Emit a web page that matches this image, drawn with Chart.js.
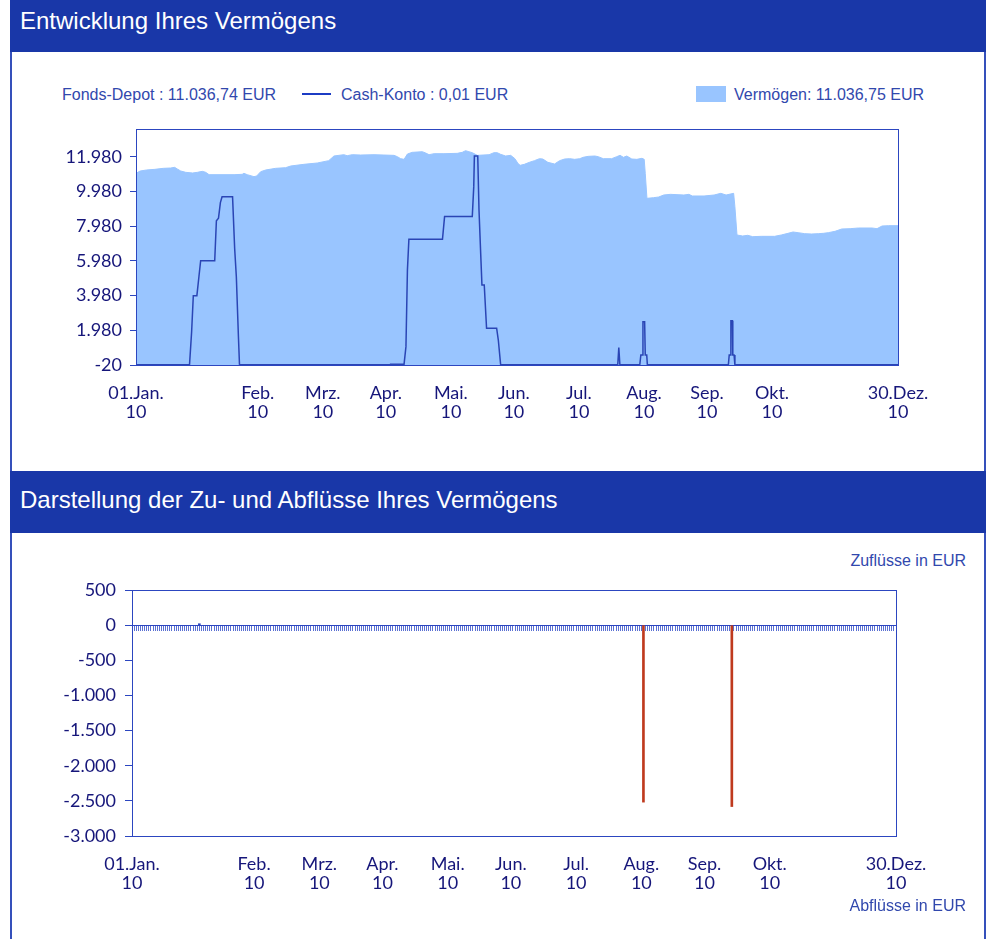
<!DOCTYPE html>
<html><head><meta charset="utf-8">
<script src="https://cdn.jsdelivr.net/npm/chart.js@4.4.1/dist/chart.umd.min.js"></script>
<style>
html,body{margin:0;padding:0;background:#fff;}
body{width:989px;height:939px;position:relative;overflow:hidden;font-family:"Liberation Sans",Arial,sans-serif;}
.fl{position:absolute;top:0;width:2px;height:939px;background:#3550bb;}
.hdr{position:absolute;left:10px;width:976px;background:#1937a8;}
.hdr span{position:absolute;left:10px;color:#fff;font-size:24px;line-height:24px;white-space:nowrap;}
.lg{position:absolute;color:#3148ad;font-size:16px;line-height:16px;white-space:nowrap;z-index:2;}
canvas{position:absolute;left:0;}
</style></head>
<body>
<div class="fl" style="left:10px"></div>
<div class="fl" style="left:984px"></div>
<div class="hdr" style="top:0;height:52px"><span style="top:9px">Entwicklung Ihres Vermögens</span></div>
<div class="hdr" style="top:471px;height:62px"><span style="top:17px">Darstellung der Zu- und Abflüsse Ihres Vermögens</span></div>

<div class="lg" style="left:62px;top:87px">Fonds-Depot : 11.036,74 EUR</div>
<div style="position:absolute;left:302px;top:93px;width:29px;height:2px;background:#1c3cc4"></div>
<div class="lg" style="left:341px;top:87px">Cash-Konto : 0,01 EUR</div>
<div style="position:absolute;left:696px;top:86px;width:30px;height:16px;background:#99c5ff"></div>
<div class="lg" style="left:734px;top:87px">Vermögen: 11.036,75 EUR</div>
<div class="lg" style="right:23px;top:553px">Zuflüsse in EUR</div>
<div class="lg" style="right:23px;top:898px">Abflüsse in EUR</div>

<canvas id="c1" width="989" height="330" style="top:110px"></canvas>
<canvas id="c2" width="989" height="360" style="top:570px"></canvas>

<script>
// ---- data ----
const dayTicks = [0, 58, 89, 119, 150, 180, 211, 242, 272, 303, 363];
const monthLabels = ['01.Jan.', 'Feb.', 'Mrz.', 'Apr.', 'Mai.', 'Jun.', 'Jul.', 'Aug.', 'Sep.', 'Okt.', '30.Dez.'];
const yearLabels = ['10', '10', '10', '10', '10', '10', '10', '10', '10', '10', '10'];
const depotTicks = [-20, 1980, 3980, 5980, 7980, 9980, 11980];
const flowTicks = [500, 0, -500, -1000, -1500, -2000, -2500, -3000];

const vermoegenDays = [0, 2, 5, 9, 13, 16.5, 18.4, 19.7, 21.3, 23.7, 27, 29.2, 31.6, 33.2, 34.8, 46.7, 50.6, 51.4, 53, 56.2, 57.5, 59.4, 61.8, 66.5, 71.3, 73.7, 80, 86.4, 91.8, 94.3, 99, 100.6, 103, 107, 113.4, 118.1, 122.9, 124.5, 126.1, 127.7, 129.3, 131.6, 136.4, 138, 139.6, 142, 146.7, 153, 155.4, 157, 158.6, 160.2, 162.6, 168.2, 170.5, 172.1, 173.7, 176.1, 178.5, 180.5, 182, 183, 185, 187.4, 189.8, 192.2, 193.8, 196.2, 199.4, 201.8, 204.2, 206.6, 209, 211.4, 213, 215.4, 218.6, 220.2, 222.6, 226.6, 229, 230.6, 232.2, 233.8, 236.2, 238.6, 241, 242.1, 242.6, 243.4, 246.6, 249, 251.4, 254.6, 261, 263.4, 265, 270.6, 275.4, 278.6, 281.1, 284.7, 285.3, 286.3, 289, 291.4, 293.8, 297.8, 304.2, 307.4, 310.6, 313, 315.4, 318.6, 321.8, 325, 327.4, 329.8, 333, 336.2, 340.2, 344.2, 350.7, 353, 355.4, 358.6, 363];
const vermoegenValues = [11037, 11172, 11230, 11268, 11326, 11345, 11383, 11288, 11172, 11095, 11057, 11095, 11153, 11095, 10960, 10960, 10980, 11037, 10960, 10845, 10883, 11133, 11230, 11326, 11364, 11460, 11557, 11634, 11768, 12037, 12113, 12055, 12113, 12094, 12113, 12094, 12075, 11998, 11883, 11845, 12152, 12248, 12286, 12210, 12113, 12171, 12171, 12190, 12248, 12344, 12286, 12228, 12075, 12113, 12228, 12228, 12133, 12037, 12075, 11883, 11600, 11500, 11557, 11673, 11768, 11883, 11864, 11673, 11576, 11768, 11864, 11883, 11845, 11883, 11960, 12017, 12037, 11998, 11883, 11883, 11998, 12075, 11960, 12037, 11864, 11845, 11903, 11845, 11037, 9595, 9634, 9672, 9787, 9826, 9787, 9826, 9730, 9730, 9787, 9883, 9787, 9883, 9114, 7480, 7422, 7461, 7384, 7403, 7403, 7480, 7576, 7653, 7615, 7557, 7538, 7557, 7576, 7615, 7692, 7826, 7845, 7883, 7883, 7845, 7999, 8018, 8018];

const cashDays = [0, 25.5, 26.5, 27.3, 29, 30, 30.8, 37.5, 38.3, 39.3, 40.2, 41, 46, 47, 47.8, 48.8, 49.3, 121, 121.3, 127.7, 128.6, 129.3, 130, 146, 147, 160.2, 160.9, 161.2, 162.8, 163.4, 164.2, 164.8, 165.9, 167, 171.8, 172.6, 173.7, 229.5, 230, 230.5, 240, 240.5, 241.2, 241.5, 242.3, 242.6, 243.3, 243.6, 282.2, 282.6, 283.2, 283.4, 284.1, 284.3, 284.9, 285.3, 363];
const cashValues = [0, 0, 1900, 3980, 3980, 5100, 6000, 6000, 8300, 8450, 9350, 9680, 9680, 6700, 5070, 1600, 0, 0, 30, 30, 1040, 5460, 7230, 7230, 8540, 8540, 10270, 12040, 12040, 8920, 6420, 4600, 4600, 2100, 2100, 1420, 0, 0, 980, 0, 0, 560, 560, 2480, 2480, 560, 560, 0, 0, 560, 560, 2540, 2540, 560, 560, 0, 0];

const flowDays = [32, 243, 285];
const flowValues = [20, -2518, -2581];

// ---- styles ----
const AXIS = '#2c46c0';
const TICKTXT = '#16167a';
const tickFont = {family: 'Lato', size: 18, lineHeight: 1.05};

function fmt(v) {
  const s = Math.abs(v).toString().replace(/\B(?=(\d{3})+(?!\d))/g, '.');
  return (v < 0 ? '-' : '') + s;
}
const boxPlugin = {
  id: 'box',
  afterDraw(chart) {
    const {ctx, chartArea: a} = chart;
    ctx.save();
    ctx.strokeStyle = AXIS;
    ctx.lineWidth = 1;
    ctx.strokeRect(Math.round(a.left) + 0.5, Math.round(a.top) + 0.5, Math.round(a.right - a.left), Math.round(a.bottom - a.top));
    ctx.restore();
  }
};
function xAxis(height) {
  return {
    type: 'linear', min: 0, max: 363, offset: false,
    grid: {display: false, drawTicks: false, offset: false},
    border: {display: false},
    ticks: {autoSkip: false, maxRotation: 0, minRotation: 0, padding: 19, color: TICKTXT, font: tickFont,
      callback: (v, i) => [monthLabels[i], yearLabels[i]]},
    afterBuildTicks: s => { s.ticks = dayTicks.map(v => ({value: v})); },
    afterFit: s => { s.height = height; }
  };
}
function pts(xs, ys) { return xs.map((x, i) => ({x: x, y: ys[i]})); }

new Chart(document.getElementById('c1'), {
  type: 'line',
  data: {datasets: [
    {label: 'Cash-Konto', data: pts(cashDays, cashValues), borderColor: '#2a45b5', borderWidth: 1.5, pointRadius: 0, fill: false, tension: 0, order: 0},
    {label: 'Vermögen', data: pts(vermoegenDays, vermoegenValues), borderColor: '#99c5ff', backgroundColor: '#99c5ff', borderWidth: 1, pointRadius: 0, fill: 'start', tension: 0, order: 1}
  ]},
  options: {
    responsive: false, animation: false, devicePixelRatio: 1, events: [],
    layout: {padding: {left: 0, right: 91, top: 19, bottom: 0}},
    plugins: {legend: {display: false}, tooltip: {enabled: false}},
    scales: {
      x: xAxis(75),
      y: {
        type: 'linear', min: -20, max: 13595,
        grid: {display: true, drawOnChartArea: false, drawTicks: true, tickLength: 6, color: AXIS},
        border: {display: false},
        ticks: {padding: 8, color: TICKTXT, font: tickFont, callback: v => fmt(v)},
        afterBuildTicks: s => { s.ticks = depotTicks.map(v => ({value: v})); },
        afterFit: s => { s.width = 136; }
      }
    }
  },
  plugins: [boxPlugin]
});

new Chart(document.getElementById('c2'), {
  type: 'bar',
  data: {datasets: [
    {label: 'Flüsse', data: pts(flowDays, flowValues), xAxisID: 'x', yAxisID: 'y',
     backgroundColor: c => (c.raw && c.raw.y < 0) ? '#bf3a1e' : '#2c46c0', borderWidth: 0, barThickness: 2}
  ]},
  options: {
    responsive: false, animation: false, devicePixelRatio: 1, events: [],
    layout: {padding: {left: 0, right: 93, top: 20, bottom: 0}},
    plugins: {legend: {display: false}, tooltip: {enabled: false}},
    scales: {
      x: xAxis(94),
      x2: {
        type: 'linear', axis: 'x', min: 0, max: 363, offset: false, position: {y: 0},
        ticks: {display: false, stepSize: 1},
        grid: {display: true, drawOnChartArea: false, drawTicks: true, tickLength: 5, color: '#5a70d2', offset: false},
        border: {display: true, color: AXIS, width: 1}
      },
      y: {
        type: 'linear', min: -3000, max: 500,
        grid: {display: true, drawOnChartArea: false, drawTicks: true, tickLength: 7, color: AXIS},
        border: {display: false},
        ticks: {padding: 9, color: TICKTXT, font: tickFont, callback: v => fmt(v)},
        afterBuildTicks: s => { s.ticks = flowTicks.map(v => ({value: v})); },
        afterFit: s => { s.width = 132; }
      }
    }
  },
  plugins: [boxPlugin]
});
</script>
</body></html>
